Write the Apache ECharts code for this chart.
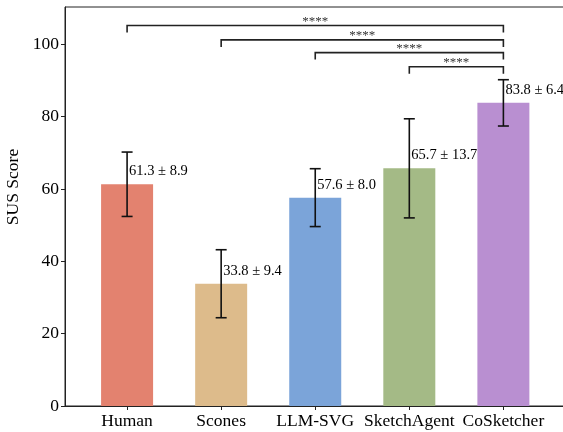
<!DOCTYPE html>
<html>
<head>
<meta charset="utf-8">
<script src="https://cdn.jsdelivr.net/npm/echarts@6/dist/echarts.min.js"></script>
<style>
html,body{margin:0;padding:0;background:#fff;}
#chart{width:563px;height:432px;}
</style>
</head>
<body>
<div id="chart"></div>
<script>
const categories = ['Human', 'Scones', 'LLM-SVG', 'SketchAgent', 'CoSketcher'];
const means = [61.3, 33.8, 57.6, 65.7, 83.8];
const sds = [8.9, 9.4, 8.0, 13.7, 6.4];
const colors = ['#E3826F', '#DDBB8B', '#7BA4D9', '#A4BA86', '#B98FD1'];
const yTicks = [0, 20, 40, 60, 80, 100];
// significance brackets: from index, to index, height, label
const bracketFrom = [0, 1, 2, 3];
const bracketTo = [4, 4, 4, 4];
const bracketY = [105.2, 101.2, 97.7, 93.8];
const bracketText = ['****', '****', '****', '****'];

const FONT = '"Liberation Serif", "DejaVu Serif", serif';
const chart = echarts.init(document.getElementById('chart'), null, {renderer: 'canvas'});

const barData = means.map((m, i) => ({value: [i, m], itemStyle: {color: colors[i]}}));
const errData = means.map((m, i) => [i, m, sds[i]]);
const brData = bracketFrom.map((f, i) => [f, bracketTo[i], bracketY[i], i]);

const option = {
  animation: false,
  backgroundColor: '#fff',
  grid: {left: 65, right: -10, top: 7, bottom: 26, show: true, borderColor: '#222', borderWidth: 1,
         backgroundColor: 'transparent', containLabel: false, outerBoundsMode: 'none'},
  graphic: [{
    type: 'text', x: 13, y: 187, rotation: Math.PI / 2,
    style: {text: 'SUS Score', font: '17.5px ' + FONT, fill: '#000', align: 'center', verticalAlign: 'middle'}
  }],
  xAxis: {
    type: 'value', min: -0.66, max: 4.74,
    splitLine: {show: false},
    axisLine: {show: true, onZero: false, lineStyle: {color: '#222', width: 1}},
    axisTick: {show: true, length: 4, lineStyle: {color: '#222'}, customValues: [0, 1, 2, 3, 4]},
    axisLabel: {
      customValues: [0, 1, 2, 3, 4],
      formatter: v => categories[Math.round(v)] || '',
      fontFamily: FONT, fontSize: 17.5, color: '#000', margin: 6
    }
  },
  yAxis: {
    type: 'value', min: 0, max: 110.3, interval: 20,
    splitLine: {show: false},
    axisLine: {show: true, onZero: false, lineStyle: {color: '#222', width: 1}},
    axisTick: {show: true, length: 4, lineStyle: {color: '#222'}, customValues: yTicks},
    axisLabel: {
      customValues: yTicks,
      fontFamily: FONT, fontSize: 17.5, color: '#000', margin: 6
    }
  },
  series: [
    {
      type: 'bar', data: barData, barWidth: 52, z: 2
    },
    {
      type: 'custom', z: 5,
      data: errData,
      renderItem: function (params, api) {
        const x = api.value(0), m = api.value(1), s = api.value(2);
        const top = api.coord([x, m + s]);
        const bot = api.coord([x, m - s]);
        const lab = api.coord([x, m + 3.5]);
        const cw = 5.5;
        const st = {stroke: '#111', lineWidth: 1.6};
        return {
          type: 'group',
          children: [
            {type: 'line', shape: {x1: top[0], y1: top[1], x2: bot[0], y2: bot[1]}, style: st},
            {type: 'line', shape: {x1: top[0] - cw, y1: top[1], x2: top[0] + cw, y2: top[1]}, style: st},
            {type: 'line', shape: {x1: bot[0] - cw, y1: bot[1], x2: bot[0] + cw, y2: bot[1]}, style: st},
            {type: 'text', style: {
              x: top[0] + 2, y: lab[1],
              text: m.toFixed(1) + ' \u00B1 ' + s.toFixed(1),
              font: '14.5px ' + FONT, fill: '#000',
              align: 'left', verticalAlign: 'middle'
            }}
          ]
        };
      }
    },
    {
      type: 'custom', z: 6,
      data: brData,
      renderItem: function (params, api) {
        const a = api.value(0), b = api.value(1), h = api.value(2);
        const p1 = api.coord([a, h]);
        const p2 = api.coord([b, h]);
        const drop = 7;
        const st = {stroke: '#222', lineWidth: 1.6, fill: null};
        return {
          type: 'group',
          children: [
            {type: 'polyline', shape: {points: [[p1[0], p1[1] + drop], [p1[0], p1[1]], [p2[0], p2[1]], [p2[0], p2[1] + drop]]}, style: st},
            {type: 'text', style: {
              x: (p1[0] + p2[0]) / 2, y: p1[1] - 4,
              text: bracketText[api.value(3)],
              font: '13px ' + FONT, fill: '#333',
              align: 'center', verticalAlign: 'middle'
            }}
          ]
        };
      }
    }
  ]
};
chart.setOption(option);
</script>
</body>
</html>
